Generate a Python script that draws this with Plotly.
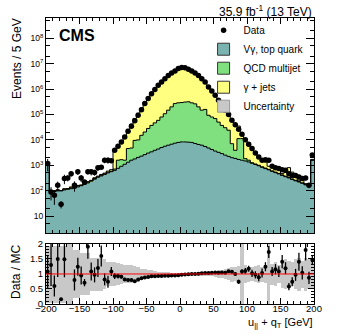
import plotly.graph_objects as go
from plotly.subplots import make_subplots

# 80 bins of 5 GeV from -200 to 200 (first and last bins include overflow)
bin_edges = list(range(-200, 205, 5))
bin_centers = [e + 2.5 for e in bin_edges[:-1]]

vgamma_top = [1000, 89, 93, 98, 100, 107, 115, 120, 126, 141,
              158, 178, 200, 240, 282, 339, 380, 437, 501, 562,
              631, 759, 912, 1096, 1318, 1585, 1778, 2042, 2291, 2630,
              3020, 3388, 3890, 4365, 5012, 5623, 6166, 6761, 7413, 7943,
              8318, 8318, 8128, 7943, 7244, 6607, 6166, 5495, 4786, 4169,
              3631, 3236, 2884, 2512, 2239, 1995, 1862, 1698, 1585, 1479,
              1349, 1202, 1072, 955, 832, 741, 661, 575, 513, 457,
              398, 355, 316, 275, 245, 219, 195, 170, 145, 1585]

qcd_multijet = [0, 0, 3, 6, 0, 8, 0, 10, 0, 12,
                0, 5, 15, 0, 20, 10, 25, 15, 30, 20,
                77, 826, 748, 489, 3253, 3201, 7772, 7958, 12845, 17787,
                25164, 33766, 42884, 54519, 74421, 101529, 141745, 192765, 261740, 280460,
                286803, 300712, 308100, 280460, 255783, 192919, 141745, 152994, 88539, 75264,
                65552, 46883, 34270, 27688, 21749, 5084, 2028, 9522, 9635, 341,
                236, 60, 50, 45, 40, 35, 30, 28, 25, 22,
                20, 18, 16, 14, 12, 10, 9, 8, 7, 0]

gamma_jets = [0, 0, 3, 5, 0, 4, 6, 10, 5, 8,
              10, 6, 12, 15, 20, 25, 30, 40, 60, 90,
              3092, 4415, 7340, 13415, 21429, 37214, 60450, 102000, 164864, 284583,
              441816, 677846, 988226, 1461116, 1965567, 2627848, 3542089, 4290474, 5130847, 6441597,
              7004879, 6750970, 5773772, 4841597, 4006973, 3230474, 2372089, 1691511, 1073675, 738567,
              478817, 298881, 180846, 111800, 68012, 47921, 33110, 23780, 4180, 7480,
              4215, 3218, 1988, 1400, 668, 564, 225, 242, 146, 207,
              52, 157, 475, 249, 153, 17, 86, 10, 34, 125]

data = [1175, 89, 66, 162, 29, 302, 316, 468, 162, 550,
        316, 219, 550, 550, 525, 794, 832, 1585, 1585, 1514,
        3890, 5623, 8318, 12882, 21878, 34674, 56234, 93325, 154882, 269153,
        426580, 660693, 954993, 1412538, 1905461, 2570396, 3467369, 4265795, 5128614, 6456542,
        7079458, 6918310, 6025596, 5128614, 4265795, 3467369, 2570396, 1905461, 1202264, 851138,
        575440, 363078, 229087, 147911, 100000, 58884, 39811, 26303, 16596, 10233,
        6761, 4571, 3020, 2138, 1585, 1660, 1585, 912, 794, 741,
        661, 631, 468, 398, 398, 347, 302, 316, 162, 2512]

ratio = [1.08, 1.30, 0.60, 1.50, 0.16, 1.49, 3.0, 3.4, 0.80, 1.24,
         0.95, 0.71, 1.91, 1.08, 0.97, 1.20, 1.60, 0.82, 0.74, 1.08,
         0.93, 0.93, 0.91, 0.82, 0.80, 0.80, 0.76, 0.82, 0.86, 0.88,
         0.90, 0.92, 0.92, 0.93, 0.93, 0.94, 0.94, 0.95, 0.95, 0.96,
         0.97, 0.98, 0.99, 1.00, 1.00, 1.01, 1.02, 1.03, 1.03, 1.04,
         1.05, 1.04, 1.05, 1.04, 1.09, 1.07, 1.00, 0.74, 1.08, 1.10,
         1.17, 1.02, 0.97, 0.89, 1.03, 1.24, 1.73, 1.08, 1.16, 1.08,
         1.41, 1.19, 0.58, 0.74, 0.97, 1.41, 1.04, 1.80, 0.87, 1.47]

ratio_err = [0.55, 0.70, 0.35, 0.60, 0.05, 0.60, 0.80, 0.80, 0.35, 0.30,
             0.30, 0.12, 0.40, 0.30, 0.25, 0.30, 0.35, 0.20, 0.20, 0.15,
             0.10, 0.08, 0.06, 0.05, 0.04, 0.03, 0.03, 0.02, 0.02, 0.02,
             0.01, 0.01, 0.01, 0.01, 0.01, 0.01, 0.01, 0.01, 0.01, 0.01,
             0.01, 0.01, 0.01, 0.01, 0.01, 0.01, 0.01, 0.01, 0.01, 0.01,
             0.01, 0.01, 0.02, 0.02, 0.03, 0.04, 0.05, 0.07, 0.08, 0.10,
             0.10, 0.12, 0.12, 0.13, 0.15, 0.15, 0.20, 0.15, 0.17, 0.18,
             0.22, 0.20, 0.12, 0.15, 0.20, 0.30, 0.22, 0.35, 0.20, 0.15]

mc_unc = [0.95, 0.95, 0.95, 0.95, 0.95, 0.95, 1.0, 1.0, 0.80, 0.80,
          0.70, 0.70, 0.70, 0.55, 0.55, 0.55, 0.55, 0.50, 0.40, 0.40,
          0.40, 0.38, 0.32, 0.30, 0.30, 0.30, 0.28, 0.25, 0.18, 0.16,
          0.14, 0.12, 0.10, 0.08, 0.07, 0.06, 0.06, 0.05, 0.05, 0.05,
          0.04, 0.04, 0.04, 0.04, 0.04, 0.05, 0.05, 0.05, 0.06, 0.07,
          0.10, 0.12, 0.14, 0.16, 0.20, 0.25, 0.22, 0.28, 1.0, 0.30,
          0.25, 0.22, 0.28, 0.30, 0.25, 0.30, 1.0, 0.35, 0.40, 0.30,
          0.45, 0.50, 0.45, 0.40, 0.50, 0.55, 0.45, 0.55, 0.50, 0.45]

TEAL = "#7ab3b0"
GREEN = "#80e080"
YELLOW = "#ffff80"
GREY = "#c8c8c8"
FONT = "Liberation Sans"

fig = make_subplots(rows=2, cols=1, shared_xaxes=True)

# stacked histogram fills
for vals, col in [(vgamma_top, TEAL), (qcd_multijet, GREEN), (gamma_jets, YELLOW)]:
    fig.add_trace(go.Bar(x=bin_centers, y=vals, width=5, marker=dict(color=col, line=dict(width=0)),
                         showlegend=False, hoverinfo="skip"), row=1, col=1)

# black step outlines on top of each stack layer
cum1 = list(vgamma_top)
cum2 = [a + b for a, b in zip(cum1, qcd_multijet)]
cum3 = [a + b for a, b in zip(cum2, gamma_jets)]
for cum in [cum1, cum2, cum3]:
    fig.add_trace(go.Scatter(x=bin_edges, y=cum + [cum[-1]], mode="lines", line_shape="hv",
                             line=dict(color="black", width=1), showlegend=False, hoverinfo="skip"),
                  row=1, col=1)

data_err = [d * e / r for d, e, r in zip(data, ratio_err, ratio)]
fig.add_trace(go.Scatter(x=bin_centers, y=data, mode="markers", name="Data", legendrank=1,
                         marker=dict(color="black", size=5.5),
                         error_y=dict(type="data", array=data_err, color="black", thickness=1, width=0)),
              row=1, col=1)

# legend-only boxes
for nm, col, lc, rk in [("V\u03b3, top quark", TEAL, "#333333", 2), ("QCD multijet", GREEN, "#333333", 3),
                        ("\u03b3 + jets", YELLOW, "#333333", 4), ("Uncertainty", GREY, "#999999", 5)]:
    fig.add_trace(go.Bar(x=[None], y=[None], name=nm, legendrank=rk,
                         marker=dict(color=col, line=dict(color=lc, width=1))), row=1, col=1)

# ratio panel
fig.add_trace(go.Bar(x=bin_centers, y=[2 * u for u in mc_unc], base=[1 - u for u in mc_unc], width=5,
                     marker=dict(color=GREY, line=dict(width=0)), showlegend=False, hoverinfo="skip"),
              row=2, col=1)
fig.add_hline(y=1, line=dict(color="red", width=1), row=2, col=1)
fig.add_trace(go.Scatter(x=bin_centers, y=ratio, mode="markers", showlegend=False,
                         marker=dict(color="black", size=4),
                         error_y=dict(type="data", array=ratio_err, color="black", thickness=1.3, width=0)),
              row=2, col=1)

axis_common = dict(showline=True, linecolor="black", linewidth=1, mirror="allticks", ticks="inside",
                   tickcolor="black", showgrid=False, zeroline=False)

fig.update_xaxes(range=[-200, 200], dtick=50, ticklen=6,
                 minor=dict(dtick=10, ticks="inside", ticklen=3, tickcolor="black"), **axis_common)
fig.update_xaxes(showticklabels=False, row=1, col=1)
fig.update_xaxes(tickfont=dict(family=FONT, size=9.5, color="black"), ticklabelstandoff=-4, row=2, col=1)

fig.update_yaxes(type="log", range=[0.33, 8.8], tickvals=[10 ** k for k in range(1, 9)],
                 ticktext=["10"] + ["10<sup>%d</sup>" % k for k in range(2, 9)],
                 ticklen=8, minor=dict(ticks="inside", ticklen=4, tickcolor="black"),
                 tickfont=dict(family=FONT, size=8.5, color="black"), row=1, col=1, **axis_common)
fig.update_yaxes(range=[0, 2], tickvals=[0, 0.5, 1, 1.5, 2], ticktext=["0", "0.5", "1", "1.5", "2"],
                 ticklen=6, minor=dict(dtick=0.1, ticks="inside", ticklen=3, tickcolor="black"),
                 tickfont=dict(family=FONT, size=9.5, color="black"), row=2, col=1, **axis_common)

fig.update_layout(
    width=349, height=335,
    margin=dict(l=46, r=35, t=18, b=31),
    plot_bgcolor="white", paper_bgcolor="white",
    barmode="stack", bargap=0,
    font=dict(family=FONT, color="black"),
    yaxis=dict(domain=[0.248, 1]),
    yaxis2=dict(domain=[0, 0.21]),
    legend=dict(x=0.588, y=1.008, xanchor="left", yanchor="top", bgcolor="rgba(0,0,0,0)",
                traceorder="normal", font=dict(family=FONT, size=10), tracegroupgap=0),
    annotations=[
        dict(text="<b>CMS</b>", x=0.041, y=0.94, xref="paper", yref="paper", xanchor="left",
             yanchor="middle", showarrow=False, font=dict(family=FONT, size=16)),
        dict(text="35.9 fb<sup>-1</sup> (13 TeV)", x=1, y=1.024, xref="paper", yref="paper",
             xanchor="right", yanchor="middle", showarrow=False, font=dict(family=FONT, size=12)),
        dict(text="Events / 5 GeV", x=-0.108, y=0.857, xref="paper", yref="paper", textangle=-90,
             xanchor="center", yanchor="middle", showarrow=False, font=dict(family=FONT, size=12)),
        dict(text="Data / MC", x=-0.112, y=0.112, xref="paper", yref="paper", textangle=-90,
             xanchor="center", yanchor="middle", showarrow=False, font=dict(family=FONT, size=12)),
        dict(text="u<sub>||</sub> + q<sub>T</sub> [GeV]", x=1.005, y=-0.066, xref="paper", yref="paper",
             xanchor="right", yanchor="middle", showarrow=False, font=dict(family=FONT, size=11)),
    ],
)

fig.write_html("out.html", config={"displayModeBar": False},
               post_script="document.body.style.margin='0';")
